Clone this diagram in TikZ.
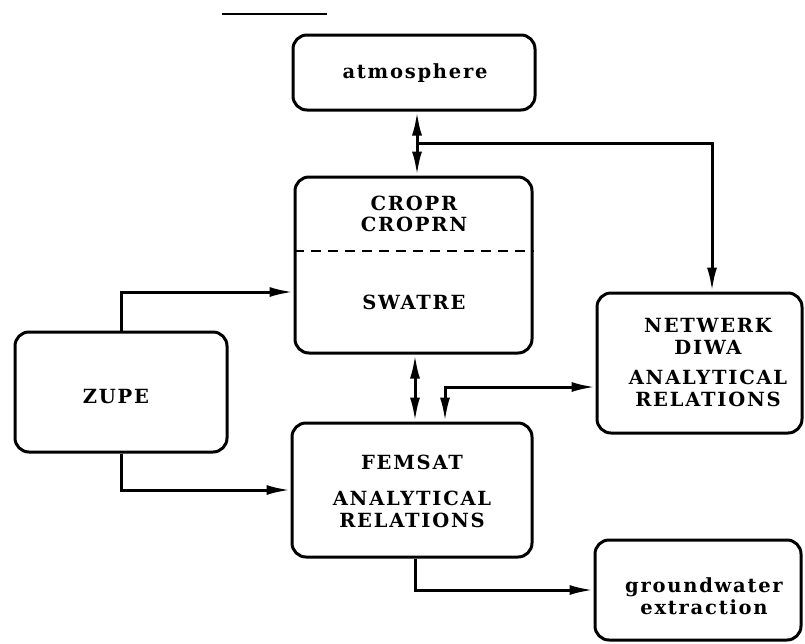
\documentclass[tikz,border=0pt]{standalone}
\usepackage{fontspec}
\newfontfamily\boxfont{DejaVu Serif}[LetterSpace=9]
\usetikzlibrary{arrows.meta,calc}

\begin{document}
\begin{tikzpicture}[x=1pt,y=-1pt,
  box/.style={draw,line width=3pt,rounded corners=14pt,inner sep=0pt},
  lbl/.style={font=\boxfont\bfseries\fontsize{19.5}{21.5}\selectfont,align=center,inner sep=0pt},
  link/.style={line width=3pt,-{Latex[length=24pt,width=10pt]}},
  both/.style={line width=3pt,{Latex[length=24pt,width=10pt]}-{Latex[length=24pt,width=10pt]}}]
\useasboundingbox (0,0) rectangle (805,643);

% stray rule at the top
\draw[line width=1.5pt] (222,14) -- (327,14);

% boxes
\node[box,minimum width=242pt,minimum height=75pt] (atm) at (414,72.5) {};
\node[lbl] (atmt) at (415,73) {atmosphere};

\node[box,minimum width=237pt,minimum height=176pt] (crop) at (413.5,265) {};
\node[lbl] (cropt) at (414,214) {CROPR\\CROPRN};
\node[lbl] (swatre) at (414,302) {SWATRE};
\draw[line width=2.2pt,dash pattern=on 10pt off 7pt]
  ($(crop.west)+(0,-14)$) -- ($(crop.east)+(0,-14)$);

\node[box,minimum width=212pt,minimum height=120pt] (zupe) at (121,392) {};
\node[lbl] (zupet) at (116,397) {ZUPE};

\node[box,minimum width=240pt,minimum height=134pt] (fem) at (412,490) {};
\node[lbl] (femt) at (412,491) {FEMSAT\\[15pt]ANALYTICAL\\RELATIONS};

\node[box,minimum width=205pt,minimum height=140pt] (net) at (699.5,363) {};
\node[lbl] (nett) at (708,362.5) {NETWERK\\DIWA\\[9pt]ANALYTICAL\\RELATIONS};

\node[box,minimum width=206pt,minimum height=100pt] (gw) at (698,590) {};
\node[lbl] (gwt) at (704,596) {groundwater\\extraction};

% connectors
\coordinate (ta) at ($(atm.south)+(3,0)$);
\draw[both] (ta) -- (ta |- crop.north);
\coordinate (tb) at ($(ta)+(0,32)$);
\draw[link] (tb) -| ($(net.north)+(12.5,0)$);

\draw[link] (zupe.north) |- ($(crop.west)+(0,27)$);
\draw[link] (zupe.south) |- (fem.west);

\coordinate (tc) at ($(crop.south)+(1.5,0)$);
\draw[both] (tc) -- (tc |- fem.north);

\coordinate (td) at ($(fem.north)+(33,0)$);
\draw[both] (td) |- ($(net.west)+(0,24)$);

\coordinate (te) at ($(fem.south)+(3,0)$);
\draw[link] (te) |- (gw.west);
\end{tikzpicture}
\end{document}
